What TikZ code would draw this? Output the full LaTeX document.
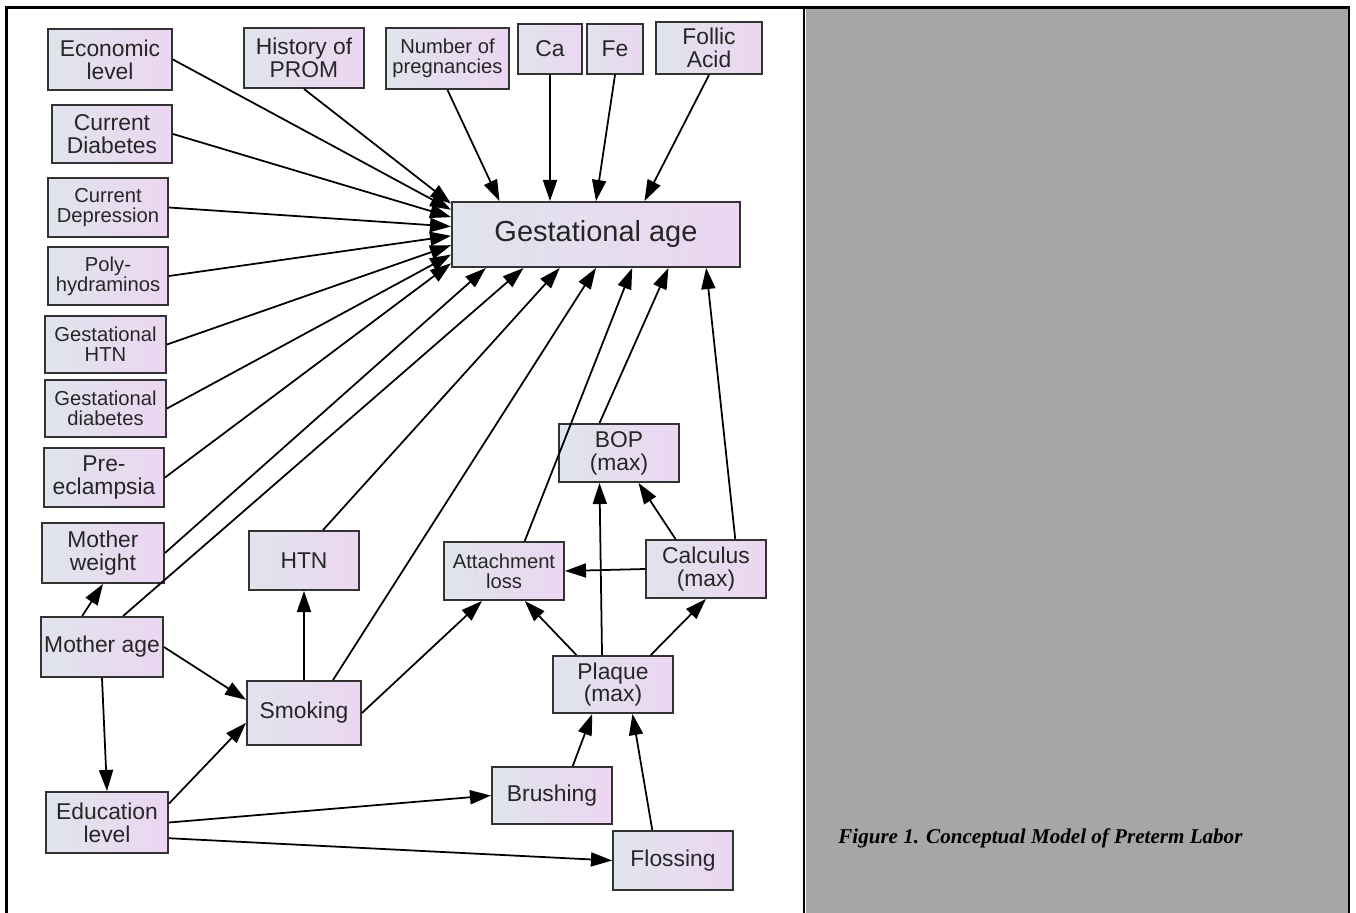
\documentclass[tikz,border=0pt]{standalone}
\usepackage{fontspec}
\setmainfont{Liberation Sans}
\newfontfamily\capfont{Liberation Serif}
\usetikzlibrary{arrows.meta,calc}

\definecolor{boxleft}{HTML}{E0E4EC}
\definecolor{boxright}{HTML}{ECD6F1}
\definecolor{boxline}{HTML}{333333}
\definecolor{panelgrey}{HTML}{A6A6A6}

\begin{document}
\begin{tikzpicture}[x=0.02cm,y=-0.02cm,
    box/.style={draw=boxline,line width=1.1pt,left color=boxleft,right color=boxright,
      align=center,inner sep=1pt,minimum width=2.4cm,minimum height=1.16cm,
      font=\fontsize{13}{13}\selectfont,text=black!85},
    smalltext/.style={font=\fontsize{11.5}{11.5}\selectfont},
    link/.style={line width=1pt,-{Triangle[length=12pt,width=8pt]}}]

    \useasboundingbox (0,0) rectangle (1356,913);
    % frame and grey panel
    \fill[panelgrey] (806,9) rectangle (1348,913);
    \draw[line width=1.2pt] (6.5,913) -- (6.5,7.5) -- (1349,7.5) -- (1349,913);
    \draw[line width=1.2pt] (804,7.5) -- (804,913);
    \node[font=\capfont\bfseries\itshape\fontsize{12}{14}\selectfont,anchor=base west,inner sep=0pt] (caption) at (838,843) {Figure 1. Conceptual Model of Preterm Labor};

    % top row
    \node[box,minimum width=2.48cm,minimum height=1.22cm] (econ) at (110,59.5) {Economic\\level};
    \node[box,minimum height=1.2cm] (prom) at (304,58) {History of\\PROM};
    \node[box,smalltext,minimum width=2.46cm,minimum height=1.22cm] (preg) at (447.5,58.5) {Number of\\pregnancies};
    \node[box,minimum width=1.28cm,minimum height=1cm] (ca) at (550,49) {Ca};
    \node[box,minimum width=1.12cm,minimum height=1cm] (fe) at (615,49) {Fe};
    \node[box,minimum width=2.12cm,minimum height=1.04cm] (folic) at (709,48) {Follic\\Acid};
    \node[box,font=\fontsize{16.5}{18}\selectfont,minimum width=5.76cm,minimum height=1.3cm] (ga) at (596,234.5) {Gestational age};

    % left column
    \node[box] (cdiab) at (112,134) {Current\\Diabetes};
    \node[box,smalltext,minimum height=1.18cm] (cdep) at (108,207.5) {Current\\Depression};
    \node[box,smalltext] (poly) at (108,276) {Poly-\\hydraminos};
    \node[box,smalltext,minimum width=2.42cm,minimum height=1.14cm] (ghtn) at (105.5,344.5) {Gestational\\HTN};
    \node[box,smalltext,minimum width=2.42cm,minimum height=1.14cm] (gdiab) at (105.5,408.5) {Gestational\\diabetes};
    \node[box,minimum height=1.18cm] (preecl) at (104,477.5) {Pre-\\eclampsia};
    \node[box,minimum width=2.44cm,minimum height=1.2cm] (mweight) at (103,553) {Mother\\weight};
    \node[box,minimum width=2.44cm,minimum height=1.2cm] (mage) at (102,647) {Mother age};
    \node[box,minimum width=2.44cm,minimum height=1.22cm] (edu) at (107,822.5) {Education\\level};

    % middle
    \node[box,minimum width=2.2cm,minimum height=1.18cm] (htn) at (304,560.5) {HTN};
    \node[box,minimum width=2.28cm,minimum height=1.28cm] (smoking) at (304,713) {Smoking};
    \node[box] (bop) at (619,453) {BOP\\(max)};
    \node[box,smalltext] (attach) at (504,571) {Attachment\\loss};
    \node[box] (calc) at (706,569) {Calculus\\(max)};
    \node[box,minimum height=1.14cm] (plaque) at (613,684.5) {Plaque\\(max)};
    \node[box,minimum height=1.14cm] (brush) at (552,795.5) {Brushing};
    \node[box,minimum height=1.18cm] (floss) at (673,860.5) {Flossing};

    % into gestational age, left side
    \draw[link] (prom.south) -- ($(ga.north west)!0.04!(ga.south west)$);
    \draw[link] (econ.east) -- ($(ga.north west)!0.13!(ga.south west)$);
    \draw[link] (cdiab.east) -- ($(ga.north west)!0.24!(ga.south west)$);
    \draw[link] (cdep.east) -- ($(ga.north west)!0.38!(ga.south west)$);
    \draw[link] (poly.east) -- ($(ga.north west)!0.52!(ga.south west)$);
    \draw[link] (ghtn.east) -- ($(ga.north west)!0.66!(ga.south west)$);
    \draw[link] (gdiab.east) -- ($(ga.north west)!0.8!(ga.south west)$);
    \draw[link] (preecl.east) -- ($(ga.north west)!0.93!(ga.south west)$);
    % into gestational age, top
    \draw[link] (preg.south) -- ($(ga.north west)!0.167!(ga.north east)$);
    \draw[link] (ca.south) -- (ca.south |- ga.north);
    \draw[link] (fe.south) -- ($(ga.north west)!0.5!(ga.north east)$);
    \draw[link] (folic.south) -- ($(ga.north west)!0.667!(ga.north east)$);
    % into gestational age, bottom
    \draw[link] (mweight.east) -- ($(ga.south west)!0.12!(ga.south east)$);
    \draw[link] ($(mage.north west)!0.67!(mage.north east)$) -- ($(ga.south west)!0.25!(ga.south east)$);
    \draw[link] ($(htn.north west)!0.67!(htn.north east)$) -- ($(ga.south west)!0.375!(ga.south east)$);
    \draw[link] ($(smoking.north west)!0.75!(smoking.north east)$) -- ($(ga.south west)!0.5!(ga.south east)$);
    \draw[link] ($(attach.north west)!0.67!(attach.north east)$) -- ($(ga.south west)!0.625!(ga.south east)$);
    \draw[link] ($(bop.north west)!0.34!(bop.north east)$) -- ($(ga.south west)!0.75!(ga.south east)$);
    \draw[link] ($(calc.north west)!0.74!(calc.north east)$) -- ($(ga.south west)!0.88!(ga.south east)$);

    % mother, education, smoking
    \draw[link] ($(mage.north west)!0.34!(mage.north east)$) -- (mweight.south);
    \draw[link] (mage.east) -- ($(smoking.north west)!0.3!(smoking.south west)$);
    \draw[link] (mage.south) -- (edu.north);
    \draw[link] ($(edu.north east)!0.2!(edu.south east)$) -- ($(smoking.north west)!0.65!(smoking.south west)$);
    \draw[link] (smoking.north) -- (htn.south);
    \draw[link] (smoking.east) -- ($(attach.south west)!0.32!(attach.south east)$);
    \draw[link] (edu.east) -- (brush.west);
    \draw[link] ($(edu.north east)!0.75!(edu.south east)$) -- (floss.west);

    % dental
    \draw[link] ($(brush.north west)!0.67!(brush.north east)$) -- ($(plaque.south west)!0.33!(plaque.south east)$);
    \draw[link] ($(floss.north west)!0.33!(floss.north east)$) -- ($(plaque.south west)!0.66!(plaque.south east)$);
    \draw[link] ($(plaque.north west)!0.2!(plaque.north east)$) -- ($(attach.south west)!0.67!(attach.south east)$);
    \draw[link] ($(plaque.north west)!0.41!(plaque.north east)$) -- ($(bop.south west)!0.34!(bop.south east)$);
    \draw[link] ($(plaque.north west)!0.81!(plaque.north east)$) -- (calc.south);
    \draw[link] ($(calc.north west)!0.25!(calc.north east)$) -- ($(bop.south west)!0.66!(bop.south east)$);
    \draw[link] (calc.west) -- (attach.east);
\end{tikzpicture}
\end{document}
